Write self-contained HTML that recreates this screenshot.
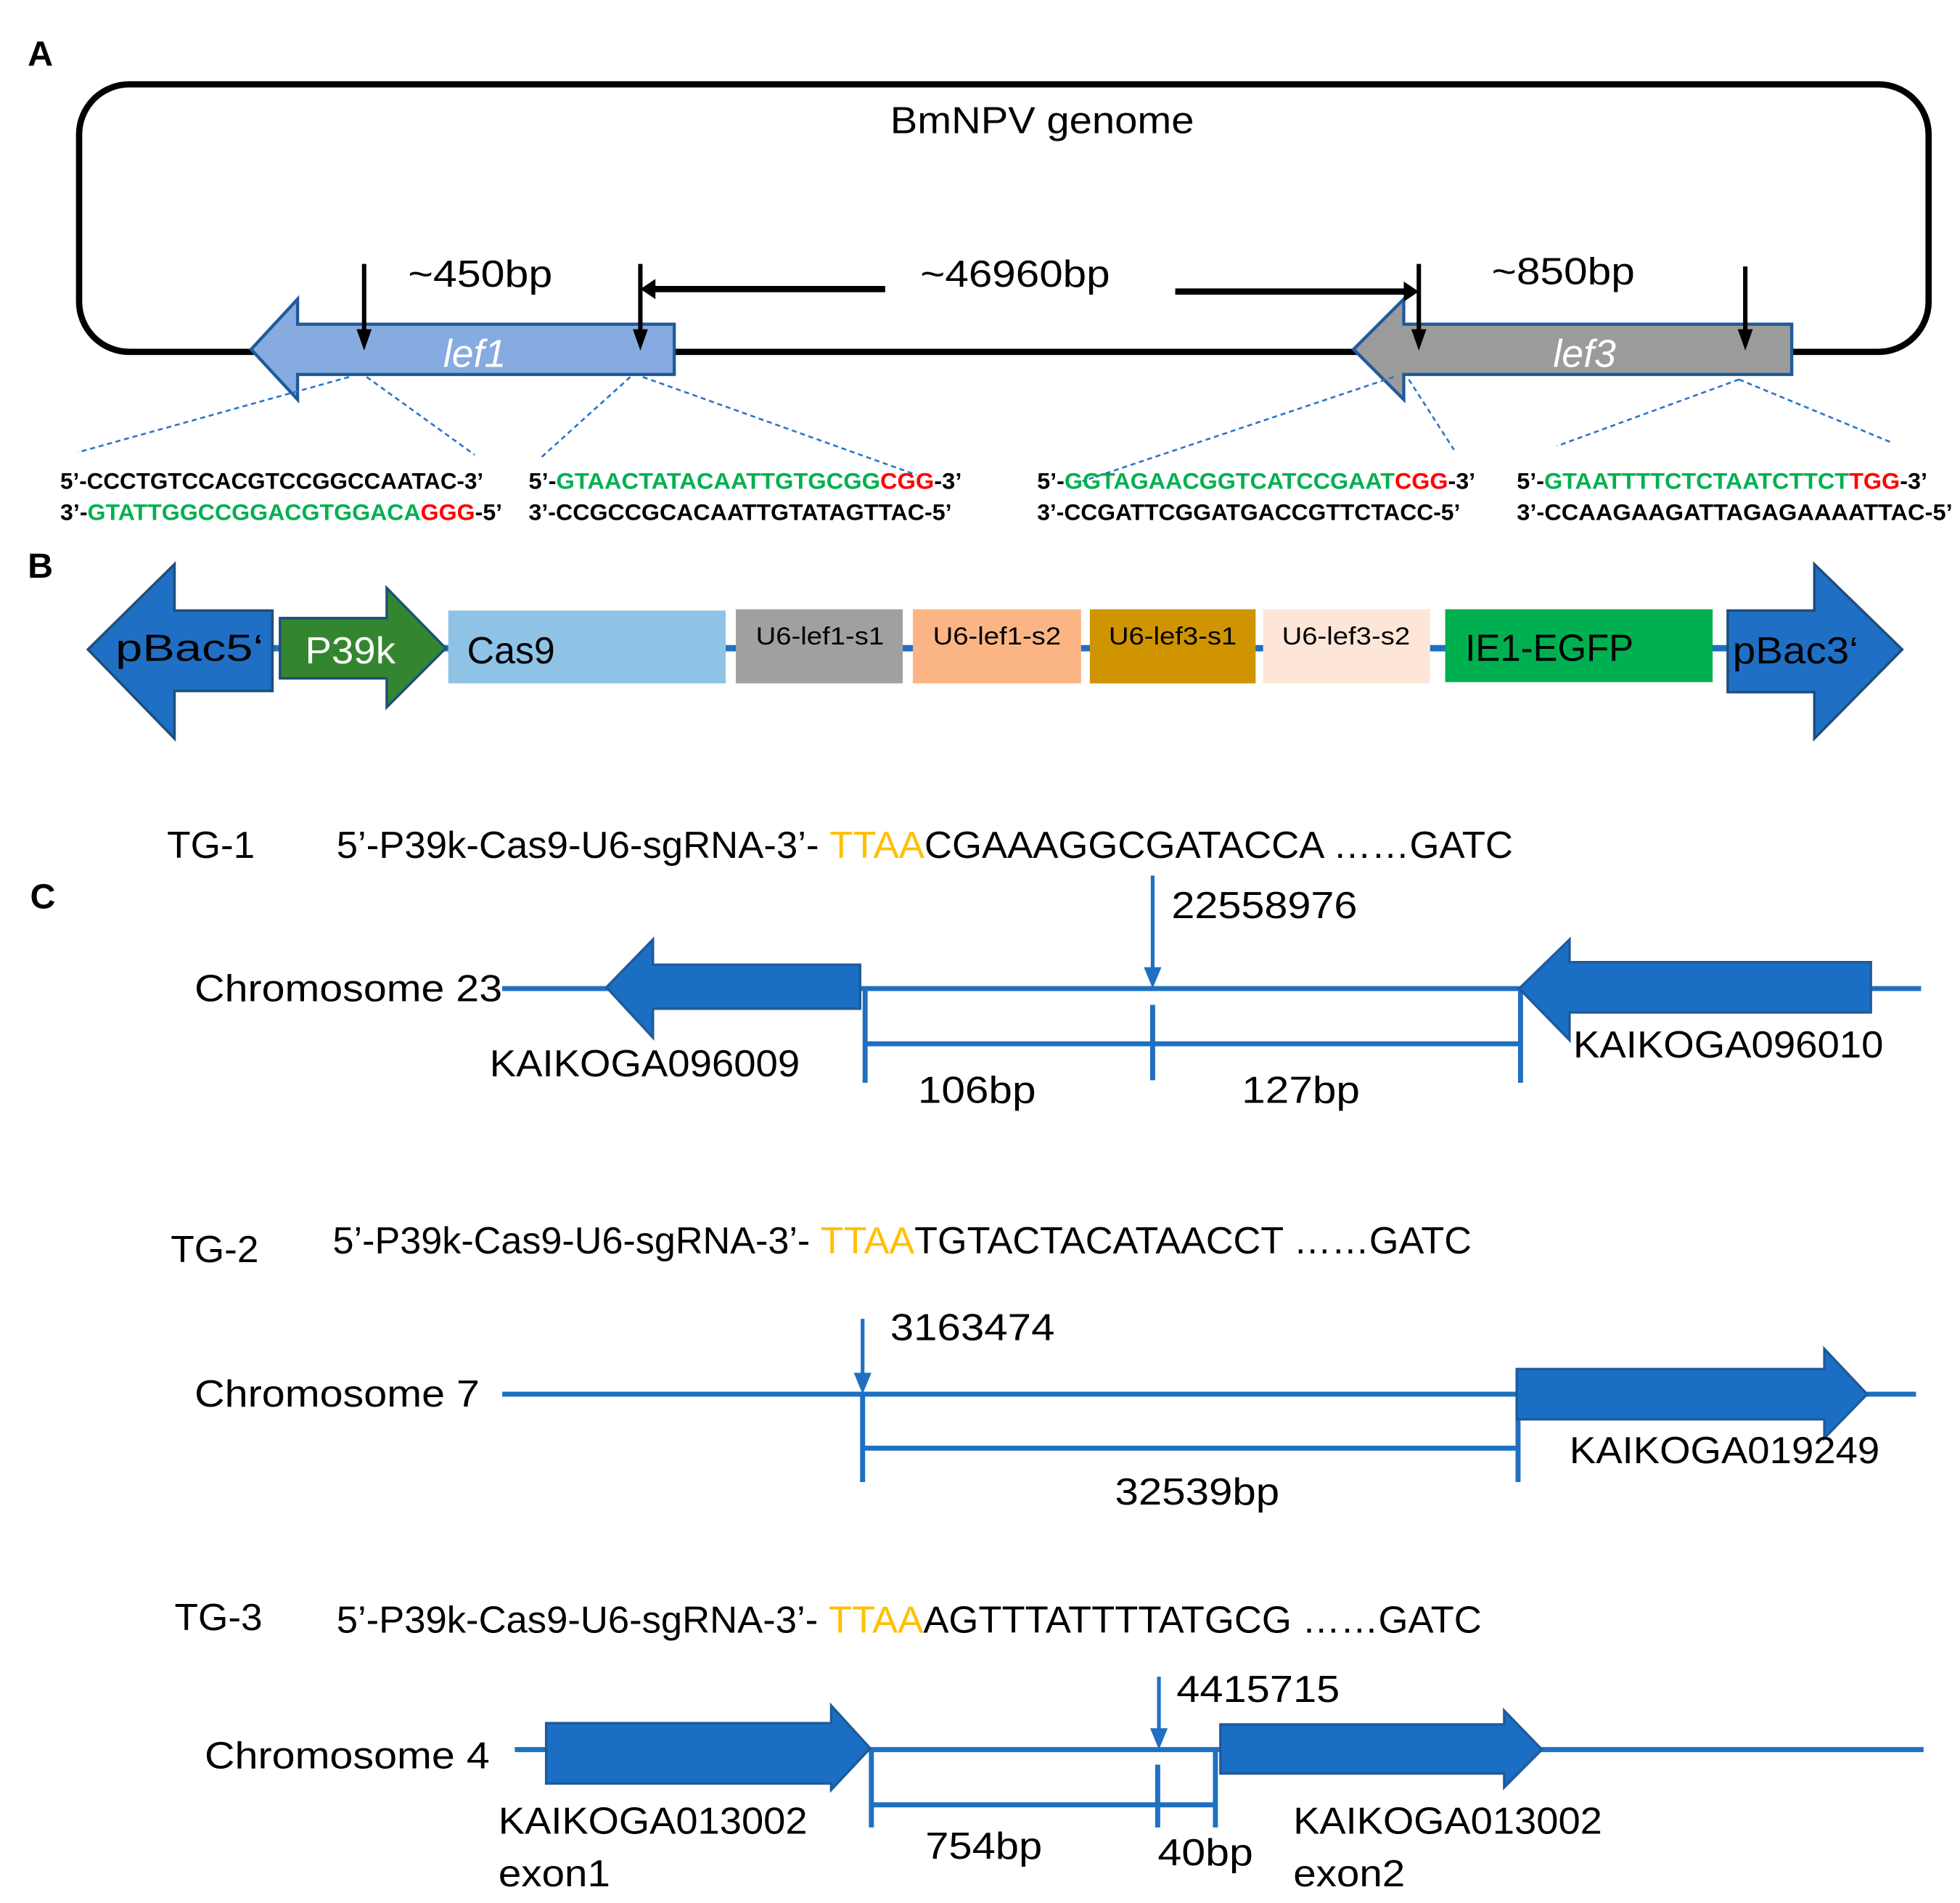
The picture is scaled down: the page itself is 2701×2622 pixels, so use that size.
<!DOCTYPE html>
<html><head><meta charset="utf-8"><style>
html,body{margin:0;padding:0;background:#fff;}
svg{display:block;}
text{font-family:"Liberation Sans",sans-serif;}
</style></head><body>
<svg width="2701" height="2622" viewBox="0 0 1561 1515" xmlns="http://www.w3.org/2000/svg">
<rect width="1561" height="1515" fill="#fff"/>
<!-- A -->
<text x="22" y="52" font-size="28" font-weight="bold">A</text>
<rect x="63" y="67" width="1473" height="213" rx="40" fill="none" stroke="#000" stroke-width="5"/>
<text x="709" y="106" font-size="30" textLength="242" lengthAdjust="spacingAndGlyphs">BmNPV genome</text>
<!-- lef1 -->
<path d="M200,278 L237,238 L237,258 L537,258 L537,298 L237,298 L237,318 Z" fill="#86abe0" stroke="#1f5a9a" stroke-width="2.5"/>
<text x="378" y="292" font-size="31" font-style="italic" fill="#fff" text-anchor="middle">lef1</text>
<!-- lef3 -->
<path d="M1078,278 L1118,238 L1118,258 L1427,258 L1427,298 L1118,298 L1118,318 Z" fill="#9b9b9b" stroke="#1f5a9a" stroke-width="2.5"/>
<text x="1262" y="292" font-size="31" font-style="italic" fill="#fff" text-anchor="middle">lef3</text>
<!-- black arrows -->
<g stroke="#000" stroke-width="3.5">
<line x1="290" y1="210" x2="290" y2="266"/><line x1="510" y1="210" x2="510" y2="266"/>
<line x1="1130" y1="210" x2="1130" y2="266"/><line x1="1390" y1="212" x2="1390" y2="266"/>
</g>
<g fill="#000">
<path d="M290,279 L284,262 L296,262 Z"/><path d="M510,279 L504,262 L516,262 Z"/>
<path d="M1130,279 L1124,262 L1136,262 Z"/><path d="M1390,279 L1384,262 L1396,262 Z"/>
</g>
<line x1="705" y1="230" x2="520" y2="230" stroke="#000" stroke-width="5"/><path d="M510,230 L522,222 L522,238 Z" fill="#000"/>
<line x1="936" y1="232" x2="1120" y2="232" stroke="#000" stroke-width="5"/><path d="M1130,232 L1118,224 L1118,240 Z" fill="#000"/>
<text x="325" y="228" font-size="30" textLength="115" lengthAdjust="spacingAndGlyphs">~450bp</text>
<text x="733" y="228" font-size="30" textLength="151" lengthAdjust="spacingAndGlyphs">~46960bp</text>
<text x="1188" y="226" font-size="30" textLength="114" lengthAdjust="spacingAndGlyphs">~850bp</text>
<!-- dashed -->
<g stroke="#2a75c8" stroke-width="1.5" stroke-dasharray="4,3" fill="none">
<path d="M278,300 L62,360 M292,300 L378,362 M502,300 L430,365 M512,300 L730,378 M1110,300 L862,383 M1122,302 L1158,358 M1385,302 L1240,355 M1385,302 L1506,352"/>
</g>
<!-- sequences -->
<g font-size="18" font-weight="bold">
<text x="48" y="389" textLength="337" lengthAdjust="spacingAndGlyphs">5’-CCCTGTCCACGTCCGGCCAATAC-3’</text>
<text x="48" y="414" textLength="352" lengthAdjust="spacingAndGlyphs">3’-<tspan fill="#00b050">GTATTGGCCGGACGTGGACA</tspan><tspan fill="#f00">GGG</tspan>-5’</text>
<text x="421" y="389" textLength="345" lengthAdjust="spacingAndGlyphs">5’-<tspan fill="#00b050">GTAACTATACAATTGTGCGG</tspan><tspan fill="#f00">CGG</tspan>-3’</text>
<text x="421" y="414" textLength="337" lengthAdjust="spacingAndGlyphs">3’-CCGCCGCACAATTGTATAGTTAC-5’</text>
<text x="826" y="389" textLength="349" lengthAdjust="spacingAndGlyphs">5’-<tspan fill="#00b050">GGTAGAACGGTCATCCGAAT</tspan><tspan fill="#f00">CGG</tspan>-3’</text>
<text x="826" y="414" textLength="337" lengthAdjust="spacingAndGlyphs">3’-CCGATTCGGATGACCGTTCTACC-5’</text>
<text x="1208" y="389" textLength="327" lengthAdjust="spacingAndGlyphs">5’-<tspan fill="#00b050">GTAATTTTCTCTAATCTTCT</tspan><tspan fill="#f00">TGG</tspan>-3’</text>
<text x="1208" y="414" textLength="347" lengthAdjust="spacingAndGlyphs">3’-CCAAGAAGATTAGAGAAAATTAC-5’</text>
</g>
<!-- B -->
<text x="22" y="460" font-size="28" font-weight="bold">B</text>
<line x1="215" y1="516" x2="1380" y2="516" stroke="#1f70c1" stroke-width="5"/>
<path d="M70,517 L139,449 L139,486 L217,486 L217,550 L139,550 L139,588 Z" fill="#1f6fc5" stroke="#1f4e79" stroke-width="2"/>
<text x="92" y="526" font-size="30" textLength="118" lengthAdjust="spacingAndGlyphs">pBac5‘</text>
<path d="M223,492 L308,492 L308,468 L355,516 L308,563 L308,540 L223,540 Z" fill="#33862f" stroke="#1f4e79" stroke-width="2"/>
<text x="243" y="528" font-size="30" fill="#fff" textLength="72" lengthAdjust="spacingAndGlyphs">P39k</text>
<rect x="357" y="486" width="221" height="58" fill="#8fc3e6"/>
<text x="372" y="528" font-size="30" textLength="70" lengthAdjust="spacingAndGlyphs">Cas9</text>
<rect x="586" y="485" width="133" height="59" fill="#a0a0a0"/>
<rect x="727" y="485" width="134" height="59" fill="#fbb584"/>
<rect x="868" y="485" width="132" height="59" fill="#cf9400"/>
<rect x="1006" y="485" width="133" height="59" fill="#fde6d8"/>
<g font-size="20" text-anchor="middle">
<text x="653" y="513" textLength="102" lengthAdjust="spacingAndGlyphs">U6-lef1-s1</text>
<text x="794" y="513" textLength="102" lengthAdjust="spacingAndGlyphs">U6-lef1-s2</text>
<text x="934" y="513" textLength="102" lengthAdjust="spacingAndGlyphs">U6-lef3-s1</text>
<text x="1072" y="513" textLength="102" lengthAdjust="spacingAndGlyphs">U6-lef3-s2</text>
</g>
<rect x="1151" y="485" width="213" height="58" fill="#00b050"/>
<text x="1167" y="526" font-size="30" textLength="134" lengthAdjust="spacingAndGlyphs">IE1-EGFP</text>
<path d="M1376,486 L1445,486 L1445,449 L1515,517 L1445,588 L1445,551 L1376,551 Z" fill="#1f6fc5" stroke="#1f4e79" stroke-width="2"/>
<text x="1380" y="528" font-size="30" textLength="100" lengthAdjust="spacingAndGlyphs">pBac3‘</text>
<!-- C -->
<text x="24" y="723" font-size="28" font-weight="bold">C</text>
<g font-size="30">
<text x="133" y="683" textLength="70" lengthAdjust="spacingAndGlyphs">TG-1</text>
<text x="268" y="683" textLength="937" lengthAdjust="spacingAndGlyphs">5’-P39k-Cas9-U6-sgRNA-3’- <tspan fill="#ffc000">TTAA</tspan>CGAAAGGCGATACCA ……GATC</text>
<text x="136" y="1005" textLength="70" lengthAdjust="spacingAndGlyphs">TG-2</text>
<text x="265" y="998" textLength="907" lengthAdjust="spacingAndGlyphs">5’-P39k-Cas9-U6-sgRNA-3’- <tspan fill="#ffc000">TTAA</tspan>TGTACTACATAACCT ……GATC</text>
<text x="139" y="1298" textLength="70" lengthAdjust="spacingAndGlyphs">TG-3</text>
<text x="268" y="1300" textLength="912" lengthAdjust="spacingAndGlyphs">5’-P39k-Cas9-U6-sgRNA-3’- <tspan fill="#ffc000">TTAA</tspan>AGTTTATTTTATGCG ……GATC</text>
</g>
<g stroke="#1f70c1" stroke-width="4" fill="none">
<line x1="400" y1="787" x2="1530" y2="787"/>
<line x1="689" y1="787" x2="689" y2="862"/><line x1="918" y1="800" x2="918" y2="860"/><line x1="1211" y1="787" x2="1211" y2="862"/>
<line x1="689" y1="831" x2="1211" y2="831"/>
<line x1="400" y1="1110" x2="1526" y2="1110"/>
<line x1="687" y1="1110" x2="687" y2="1180"/><line x1="1209" y1="1110" x2="1209" y2="1180"/>
<line x1="687" y1="1153" x2="1209" y2="1153"/>
<line x1="410" y1="1393" x2="1532" y2="1393"/>
<line x1="694" y1="1393" x2="694" y2="1455"/><line x1="922" y1="1405" x2="922" y2="1455"/><line x1="968" y1="1393" x2="968" y2="1455"/>
<line x1="694" y1="1437" x2="968" y2="1437"/>
</g>
<g stroke="#1f70c1" stroke-width="3">
<line x1="918" y1="697" x2="918" y2="772"/><line x1="687" y1="1050" x2="687" y2="1096"/><line x1="923" y1="1335" x2="923" y2="1380"/>
</g>
<g fill="#1f70c1">
<path d="M918,787 L911,770 L925,770 Z"/><path d="M687,1110 L680,1093 L694,1093 Z"/><path d="M923,1393 L916,1376 L930,1376 Z"/>
</g>
<g fill="#1a6fc4" stroke="#1f5a9a" stroke-width="2">
<path d="M483,786 L520,748 L520,768 L685,768 L685,803 L520,803 L520,826 Z"/>
<path d="M1210,787 L1250,748 L1250,766 L1490,766 L1490,806 L1250,806 L1250,828 Z"/>
<path d="M1208,1090 L1453,1090 L1453,1074 L1487,1110 L1453,1145 L1453,1130 L1208,1130 Z"/>
<path d="M435,1372 L662,1372 L662,1358 L693,1392 L662,1425 L662,1420 L435,1420 Z"/>
<path d="M972,1373 L1198,1373 L1198,1362 L1228,1393 L1198,1423 L1198,1412 L972,1412 Z"/>
</g>
<g font-size="30">
<text x="155" y="797" textLength="245" lengthAdjust="spacingAndGlyphs">Chromosome 23</text>
<text x="933" y="731" textLength="148" lengthAdjust="spacingAndGlyphs">22558976</text>
<text x="390" y="857" textLength="247" lengthAdjust="spacingAndGlyphs">KAIKOGA096009</text>
<text x="1253" y="842" textLength="247" lengthAdjust="spacingAndGlyphs">KAIKOGA096010</text>
<text x="731" y="878" textLength="94" lengthAdjust="spacingAndGlyphs">106bp</text>
<text x="989" y="878" textLength="94" lengthAdjust="spacingAndGlyphs">127bp</text>
<text x="155" y="1120" textLength="227" lengthAdjust="spacingAndGlyphs">Chromosome 7</text>
<text x="709" y="1067" textLength="131" lengthAdjust="spacingAndGlyphs">3163474</text>
<text x="1250" y="1165" textLength="247" lengthAdjust="spacingAndGlyphs">KAIKOGA019249</text>
<text x="888" y="1198" textLength="131" lengthAdjust="spacingAndGlyphs">32539bp</text>
<text x="163" y="1408" textLength="227" lengthAdjust="spacingAndGlyphs">Chromosome 4</text>
<text x="937" y="1355" textLength="130" lengthAdjust="spacingAndGlyphs">4415715</text>
<text x="397" y="1460" textLength="246" lengthAdjust="spacingAndGlyphs">KAIKOGA013002</text>
<text x="397" y="1502" textLength="89" lengthAdjust="spacingAndGlyphs">exon1</text>
<text x="1030" y="1460" textLength="246" lengthAdjust="spacingAndGlyphs">KAIKOGA013002</text>
<text x="1030" y="1502" textLength="89" lengthAdjust="spacingAndGlyphs">exon2</text>
<text x="737" y="1480" textLength="93" lengthAdjust="spacingAndGlyphs">754bp</text>
<text x="922" y="1485" textLength="76" lengthAdjust="spacingAndGlyphs">40bp</text>
</g>
</svg>
</body></html>
